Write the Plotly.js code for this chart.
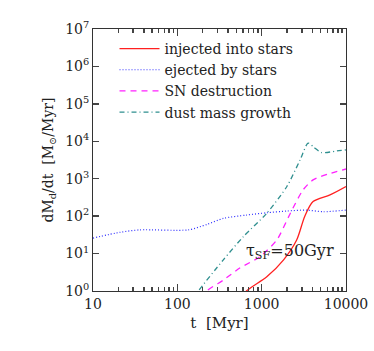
<!DOCTYPE html>
<html>
<head>
<meta charset="utf-8">
<script src="https://cdn.plot.ly/plotly-3.0.1.min.js"></script>
<style>
  html, body { margin: 0; padding: 0; background: #fff; }
  #chart { width: 374px; height: 351px; }
</style>
</head>
<body>
<div id="chart"></div>
<script>
// values (t in Myr, rate in Msun/Myr)
const ejectT = [10, 21, 36, 135, 224, 351, 660, 1150, 2000, 3390, 5370, 10000];
const ejectY = [26, 37, 43, 43, 60, 87, 107, 123, 137, 145, 131, 145];

const growthT = [150, 177, 351, 603, 1150, 1990, 2850, 3550, 4170, 5130, 7760, 10000];
const growthY = [0.6, 1, 6.8, 28, 120, 620, 3160, 8900, 6900, 5000, 5500, 5900];

const snT = [200, 224, 351, 550, 955, 1510, 2190, 3090, 4070, 6460, 10000];
const snY = [0.6, 1, 1.95, 4.1, 8.3, 23, 120, 500, 930, 1380, 1820];

const injT = [600, 660, 1150, 1820, 2600, 3240, 4070, 6460, 10000];
const injY = [0.7, 1, 2.4, 6.8, 23, 98, 245, 370, 620];

const minorT = [20, 30, 40, 50, 60, 70, 80, 90, 200, 300, 400, 500, 600, 700, 800, 900,
                2000, 3000, 4000, 5000, 6000, 7000, 8000, 9000];

const serif = 'DejaVu Serif, serif';

const traces = [
    {
        x: injT, y: injY, mode: 'lines', type: 'scatter',
        name: 'injected into stars',
        line: { color: '#ff2020', width: 1.3, shape: 'spline', smoothing: 0.8 }
    },
    {
        x: ejectT, y: ejectY, mode: 'lines', type: 'scatter',
        name: 'ejected by stars',
        line: { color: '#3030ff', width: 1.2, dash: '1px,2px', shape: 'spline', smoothing: 0.7 }
    },
    {
        x: snT, y: snY, mode: 'lines', type: 'scatter',
        name: 'SN destruction',
        line: { color: '#ff20ff', width: 1.3, dash: '6px,5px', shape: 'spline', smoothing: 0.7 }
    },
    {
        x: growthT, y: growthY, mode: 'lines', type: 'scatter',
        name: 'dust mass growth',
        line: { color: '#2f8f8f', width: 1.3, dash: '5px,3px,1px,3px', shape: 'spline', smoothing: 0.7 }
    },
    // carrier for the minor-tick axis, not visible
    {
        x: [ejectT[0]], y: [ejectY[0]], xaxis: 'x2', mode: 'markers', type: 'scatter',
        marker: { opacity: 0 }, showlegend: false, hoverinfo: 'skip'
    }
];

const xTickVals = [10, 100, 1000, 10000];
const xTickText = ['10', '100', '1000', '10000'];
const yTickVals = [1, 10, 100, 1e3, 1e4, 1e5, 1e6, 1e7];
const yTickText = yTickVals.map((v, i) => '10<sup>' + i + '</sup>');

const layout = {
    width: 374, height: 351,
    margin: { l: 93, r: 28, t: 29, b: 60 },
    font: { family: serif, size: 14, color: '#222' },
    showlegend: true,
    legend: {
        x: 0.085, y: 0.985, xanchor: 'left', yanchor: 'top',
        bgcolor: 'rgba(0,0,0,0)', borderwidth: 0,
        font: { family: serif, size: 14, color: '#222' },
        itemwidth: 40,
        tracegroupgap: 0
    },
    xaxis: {
        type: 'log', range: [1, 4],
        tickvals: xTickVals, ticktext: xTickText,
        ticks: 'inside', ticklen: 7, tickwidth: 1.5, tickcolor: '#444',
        showline: true, linecolor: '#333', linewidth: 1, mirror: 'ticks',
        showgrid: false, zeroline: false,
        tickfont: { family: serif, size: 14 },
        title: { text: 't  [Myr]', font: { family: serif, size: 15 }, standoff: 6 }
    },
    xaxis2: {
        type: 'log', range: [1, 4], overlaying: 'x', anchor: 'y', side: 'bottom',
        tickmode: 'array', tickvals: minorT, showticklabels: false,
        ticks: 'inside', ticklen: 4, tickwidth: 1.5, tickcolor: '#444',
        showline: false, mirror: 'ticks',
        showgrid: false, zeroline: false
    },
    yaxis: {
        type: 'log', range: [0, 7],
        tickvals: yTickVals, ticktext: yTickText,
        ticks: 'inside', ticklen: 6, tickwidth: 1.5, tickcolor: '#444',
        showline: true, linecolor: '#333', linewidth: 1, mirror: 'ticks',
        showgrid: false, zeroline: false,
        tickfont: { family: serif, size: 14 },
        title: { text: 'dM<sub>d</sub>/dt  [M<sub>⊙</sub>/Myr]', font: { family: serif, size: 14 }, standoff: 8 }
    },
    annotations: [
        {
            x: Math.log10(2150), y: Math.log10(11.5), xref: 'x', yref: 'y',
            text: 'τ<sub>SF</sub>=50Gyr', showarrow: false,
            font: { family: serif, size: 16, color: '#222' }
        }
    ]
};

Plotly.newPlot('chart', traces, layout, { displayModeBar: false, staticPlot: true });
</script>
</body>
</html>
